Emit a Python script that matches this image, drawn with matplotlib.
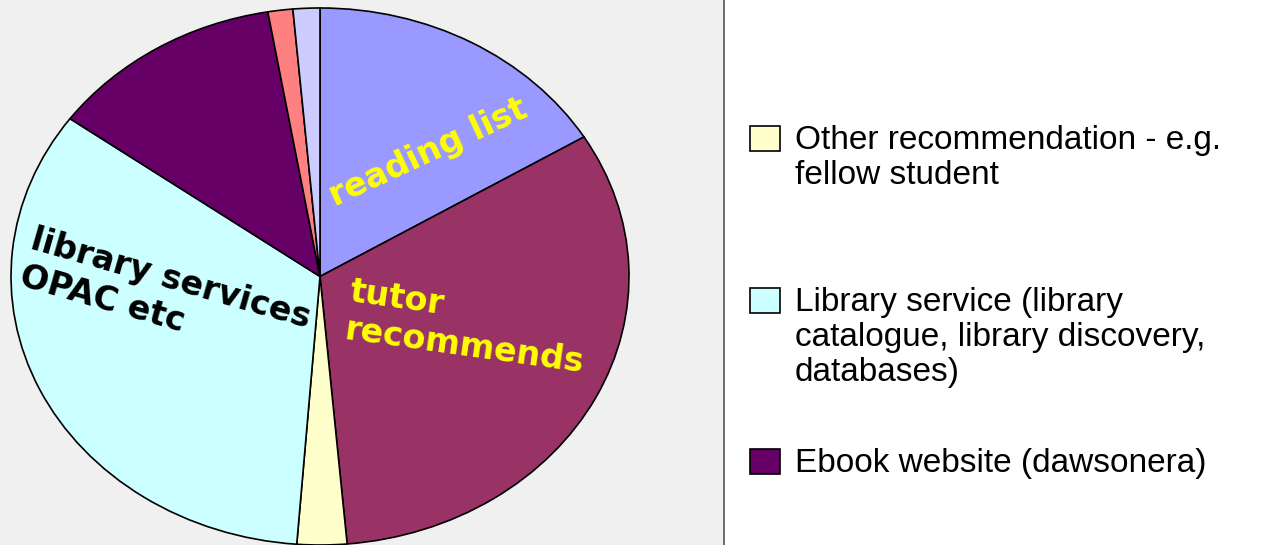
import matplotlib.pyplot as plt
from matplotlib.patches import Rectangle

# Slice data (share of responses, clockwise from 12 o'clock)
slice_names = ['Reading list', 'Tutor recommends', 'Other recommendation - e.g.\nfellow student',
               'Library service (library\ncatalogue, library discovery,\ndatabases)',
               'Ebook website (dawsonera)', 'Other', 'Other 2']
slice_values = [16.3, 32.3, 2.6, 33.8, 12.3, 1.3, 1.4]
slice_colors = ['#9999FF', '#993366', '#FFFFCC', '#CCFFFF', '#660066', '#FF8080', '#CCCCFF']

# Only part of the legend is visible in the chart
legend_idx = [2, 3, 4]

W, H = 1271, 545
fig = plt.figure(figsize=(W / 100, H / 100), dpi=100)
fig.patch.set_facecolor('white')

# Plot area (grey) on the left
ax = fig.add_axes([0, 0, 724 / W, 1])
wedges, _ = ax.pie(slice_values, colors=slice_colors, startangle=90, counterclock=False,
                   wedgeprops=dict(edgecolor='black', linewidth=1.2))
ax.set_aspect('auto')
ax.set_frame_on(True)
ax.set_facecolor('#F0F0F0')
# pie is stretched like the original: 309 px wide radius, 268 px tall radius
cx, cy, rx, ry = 320, 276.5, 309, 268.5
ax.set_xlim(-cx / rx, (724 - cx) / rx)
ax.set_ylim(-(H - cy) / ry, cy / ry)
for side in ['top', 'left', 'bottom']:
    ax.spines[side].set_visible(False)
ax.spines['right'].set_color('#555555')
ax.spines['right'].set_linewidth(1.2)
ax.set_xticks([])
ax.set_yticks([])

lbl = dict(fontsize=24, fontweight='bold', family='DejaVu Sans', rotation_mode='anchor')
ax.text(0.35, 0.46, 'reading list', color='yellow', rotation=25, ha='center', va='center', **lbl)
ax.text(0.105, 0.005, 'tutor\nrecommends', color='yellow', rotation=-8, ha='left', va='top',
        linespacing=1.2, **lbl)
ax.text(-0.92, 0.20, 'library services\nOPAC etc', color='black', rotation=-16, ha='left', va='top',
        linespacing=1.2, **lbl)

# Legend drawn on the white area
tops = [126, 288, 449]
for i, top in zip(legend_idx, tops):
    fig.patches.append(Rectangle((750 / W, 1 - (top + 25) / H), 30 / W, 25 / H,
                                 transform=fig.transFigure, facecolor=slice_colors[i],
                                 edgecolor='black', linewidth=1.2))
    fig.text(795 / W, 1 - (top - 1) / H, slice_names[i], fontsize=24, family='Liberation Sans',
             ha='left', va='top', linespacing=1.17)

fig.savefig('out.png', dpi=100)
